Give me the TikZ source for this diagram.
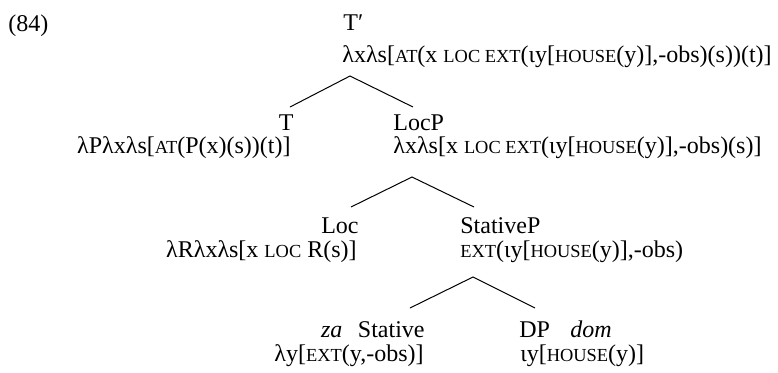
\documentclass[tikz,border=0pt]{standalone}
\usepackage{fontspec}
\setmainfont{Liberation Serif}
\newcommand\smc[1]{{\fontsize{9.2}{9.2}\selectfont #1}}
\begin{document}
\begin{tikzpicture}[x=0.5pt,y=-0.5pt,
  lbl/.style={inner sep=0pt, font=\fontsize{12}{14}\selectfont},
  lw/.style={lbl, anchor=base west},
  le/.style={lbl, anchor=base east},
  branch/.style={line width=0.5pt}]
\useasboundingbox (0,0) rectangle (778,372);
% row A/B
\node[lw] (ex) at (8,31) {(84)};
\node[lw] (tbar) at (343,30) {T′};
\node[lw] (tbarf) at (342,62) {λxλs[\smc{AT}(x \smc{LOC EXT}(ιy[\smc{HOUSE}(y)],-obs)(s))(t)]};
% row C/D
\node[le] (t) at (294,130) {T};
\node[le] (tf) at (291,153) {λPλxλs[\smc{AT}(P(x)(s))(t)]};
\node[lw] (locp) at (393,130) {LocP};
\node[lw] (locpf) at (393,153) {λxλs[x \smc{LOC EXT}(ιy[\smc{HOUSE}(y)],-obs)(s)]};
% row E/F
\node[le] (loc) at (359,233) {Loc};
\node[le] (locf) at (357,257) {λRλxλs[x \smc{LOC} R(s)]};
\node[lw] (stp) at (460,233) {StativeP};
\node[lw] (stpf) at (460,257) {\smc{EXT}(ιy[\smc{HOUSE}(y)],-obs)};
% row G/H
\node[le] (st) at (425,337) {\textit{za}\hspace{0.65em}Stative};
\node[le] (stf) at (424,361) {λy[\smc{EXT}(y,-obs)]};
\node[lw] (dp) at (519,337) {DP\hspace{0.85em}\textit{dom}};
\node[lw] (dpf) at (520,361) {ιy[\smc{HOUSE}(y)]};
% branch points
\coordinate (r0) at (350,76);
\coordinate (r1) at (290,107);
\coordinate (r2) at (413,107);
\coordinate (l0) at (412,177);
\coordinate (l1) at (351,207);
\coordinate (l2) at (474,207);
\coordinate (s0) at (473,277);
\coordinate (s1) at (410,308);
\coordinate (s2) at (535,308);
\draw[branch] (r1) -- (r0) -- (r2);
\draw[branch] (l1) -- (l0) -- (l2);
\draw[branch] (s1) -- (s0) -- (s2);
\end{tikzpicture}
\end{document}
